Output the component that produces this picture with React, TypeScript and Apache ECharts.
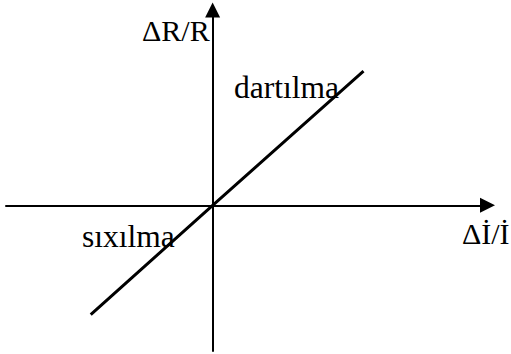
import React, { useEffect, useRef } from "react";
import * as echarts from "echarts";

// Characteristic line: relative resistance change vs relative length change
const lineX = [-0.59, 0, 0.73];
const lineY = [-0.75, 0, 0.92];

const xRange = [-1, 1.33];
const yRange = [-1, 1.34];

const yAxisTitle = "ΔR/R";
const xAxisTitle = "Δİ/İ";
const upperLabel = "dartılma";
const lowerLabel = "sıxılma";

export default function App() {
  const ref = useRef<HTMLDivElement>(null);

  useEffect(() => {
    if (!ref.current) return;
    const chart = echarts.init(ref.current, undefined, { renderer: "svg" });
    const axisCommon = {
      type: "value" as const,
      axisLine: {
        show: true,
        onZero: true,
        symbol: ["none", "triangle"],
        symbolSize: [15, 15],
        lineStyle: { color: "#000", width: 2 },
      },
      axisTick: { show: false },
      axisLabel: { show: false },
      splitLine: { show: false },
    };
    const txt = (text: string, x: number, y: number, size: number) => ({
      type: "text",
      x,
      y,
      style: {
        text,
        fontSize: size,
        fontFamily: "Liberation Serif",
        fill: "#000",
        align: "left",
        verticalAlign: "middle",
      },
    });
    chart.setOption({
      animation: false,
      backgroundColor: "#fff",
      grid: { left: 6, right: 23.5, top: 10, bottom: 3 },
      xAxis: { ...axisCommon, min: xRange[0], max: xRange[1] },
      yAxis: { ...axisCommon, min: yRange[0], max: yRange[1] },
      series: [
        {
          type: "line",
          data: lineX.map((x, i) => [x, lineY[i]]),
          symbol: "none",
          lineStyle: { color: "#000", width: 3 },
          z: 5,
        },
      ],
      graphic: [
        txt(yAxisTitle, 142, 30, 30),
        txt(upperLabel, 234, 87.5, 31.5),
        txt(lowerLabel, 82, 236.5, 31.5),
        txt(xAxisTitle, 462, 233, 30),
      ],
    });
    return () => chart.dispose();
  }, []);

  return (
    <div
      ref={ref}
      style={{ position: "absolute", left: 0, top: 0, width: 511, height: 354 }}
    />
  );
}
